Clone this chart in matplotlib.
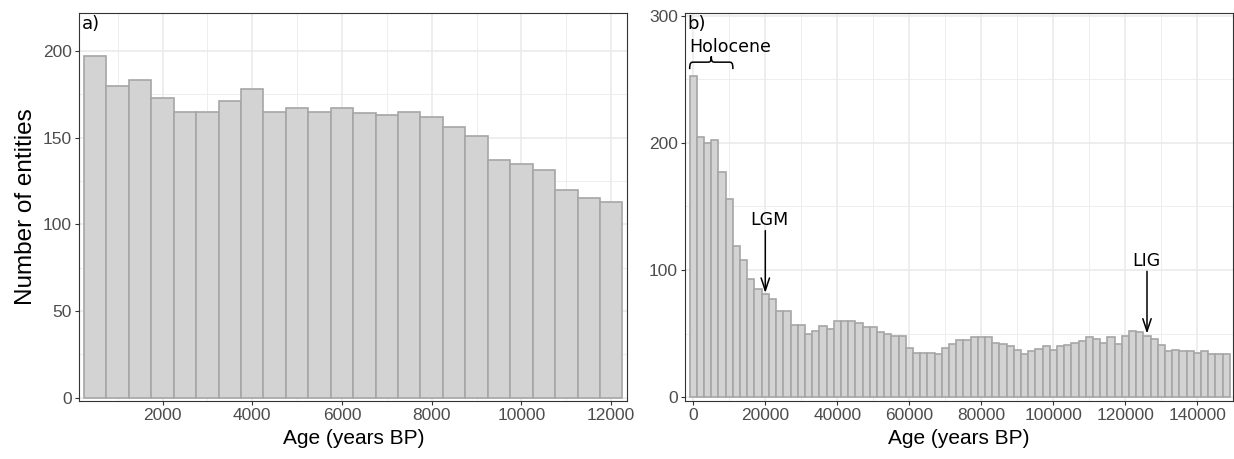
import numpy as np
import matplotlib
matplotlib.use("Agg")
import matplotlib.pyplot as plt
from matplotlib.path import Path
from matplotlib.patches import PathPatch
from matplotlib.ticker import MultipleLocator

# ---------------- data ----------------
# panel a: Holocene, 500-year bins (centres)
a_bin_width = 500
a_first_centre = 500
a_counts = [197, 180, 183, 173, 165, 165, 171, 178, 165, 167, 165, 167,
            164, 163, 165, 162, 156, 151, 137, 135, 131, 120, 115, 113]

# panel b: last 150 ka, 2000-year bins (centres)
b_bin_width = 2000
b_first_centre = 0
b_counts = [253, 205, 200, 202, 177, 156, 119, 108, 93, 85,
            81, 77, 68, 68, 57, 57, 50, 52, 56, 54,
            60, 60, 60, 58, 55, 55, 51, 50, 48, 48,
            39, 35, 35, 35, 34, 39, 42, 45, 45, 47,
            47, 47, 43, 42, 40, 37, 34, 36, 38, 40,
            37, 40, 41, 43, 44, 47, 46, 43, 47, 42,
            48, 52, 51, 48, 46, 41, 36, 37, 36, 36,
            35, 36, 34, 34, 34]

a_xticks = [2000, 4000, 6000, 8000, 10000, 12000]
a_yticks = [0, 50, 100, 150, 200]
b_xticks = [0, 20000, 40000, 60000, 80000, 100000, 120000, 140000]
b_yticks = [0, 100, 200, 300]

x_title = "Age (years BP)"
y_title = "Number of entities"
panel_labels = ["a)", "b)"]
# name: (arrow x, arrow tip y, label x, label y)
events = {"LGM": (20000, 82, 21000, 139), "LIG": (126000, 50, 125800, 107)}
holocene_label = "Holocene"
holocene_span = (-1000, 11000)

# ---------------- style ----------------
FILL = "#D3D3D3"
EDGE = "#A6A6A6"
GRID = "#EBEBEB"
BORDER = "#333333"
TICKLAB = "#4D4D4D"
SANS = ["Liberation Sans", "DejaVu Sans"]
ANNO = ["DejaVu Sans"]

W, H = 1234, 459
fig = plt.figure(figsize=(W / 100, H / 100), dpi=100)

def px_axes(l, r, t, b):
    return fig.add_axes([l / W, 1 - b / H, (r - l) / W, (b - t) / H])

axa = px_axes(79.3, 627.3, 12.7, 401)
axb = px_axes(685, 1232.7, 12.7, 401)

def style(ax, xticks, yticks, xminor, yminor):
    ax.set_facecolor("white")
    ax.set_axisbelow(True)
    ax.set_xticks(xticks)
    ax.set_yticks(yticks)
    ax.xaxis.set_minor_locator(MultipleLocator(xminor))
    ax.yaxis.set_minor_locator(MultipleLocator(yminor))
    ax.grid(which="major", color=GRID, linewidth=1.2)
    ax.grid(which="minor", color=GRID, linewidth=0.6)
    ax.tick_params(which="minor", length=0)
    ax.tick_params(which="major", length=3.2, width=0.8, color=BORDER,
                   labelcolor=TICKLAB, labelsize=12.5, pad=2)
    for lab in ax.get_xticklabels() + ax.get_yticklabels():
        lab.set_family(SANS)
    for s in ax.spines.values():
        s.set_color(BORDER)
        s.set_linewidth(0.8)
    ax.set_xlabel(x_title, fontsize=15, family=SANS, labelpad=4)

# panel a
a_centres = a_first_centre + a_bin_width * np.arange(len(a_counts))
axa.bar(a_centres, a_counts, width=a_bin_width, color=FILL, edgecolor=EDGE,
        linewidth=1.2, zorder=2)
axa.set_xlim(145, 12360)
axa.set_ylim(-2, 222)
style(axa, a_xticks, a_yticks, 1000, 25)
axa.set_ylabel(y_title, fontsize=17.5, family=SANS, labelpad=4)
axa.text(0.004, 0.995, panel_labels[0], transform=axa.transAxes, ha="left",
         va="top", fontsize=13, family=ANNO)

# panel b
b_centres = b_first_centre + b_bin_width * np.arange(len(b_counts))
axb.bar(b_centres, b_counts, width=b_bin_width, color=FILL, edgecolor=EDGE,
        linewidth=1.2, zorder=2)
axb.set_xlim(-2300, 149800)
axb.set_ylim(-3, 302.4)
style(axb, b_xticks, b_yticks, 10000, 50)
axb.text(0.004, 0.995, panel_labels[1], transform=axb.transAxes, ha="left",
         va="top", fontsize=13, family=ANNO)

for name, (x, ytip, xl, yl) in events.items():
    axb.annotate("", xy=(x, ytip), xytext=(x, yl - 8),
                 arrowprops=dict(arrowstyle="->,head_length=0.9,head_width=0.3",
                                 color="black", lw=1.1, shrinkA=0, shrinkB=0),
                 zorder=5)
    axb.text(xl, yl, name, ha="center", va="center", fontsize=12.5,
             family=ANNO, zorder=5)

# Holocene brace
x0, x1 = holocene_span
xm = (x0 + x1) / 2
ylow, ymid, yhigh = 258.0, 263.5, 268.0
q = (x1 - x0) * 0.1
verts = [(x0, ylow), (x0, ymid), (x0 + q * 0.3, ymid), (x0 + q, ymid),
         (xm - q, ymid), (xm - q * 0.3, ymid), (xm, ymid), (xm, yhigh),
         (xm, ymid), (xm + q * 0.3, ymid), (xm + q, ymid),
         (x1 - q, ymid), (x1 - q * 0.3, ymid), (x1, ymid), (x1, ylow)]
codes = [Path.MOVETO, Path.CURVE4, Path.CURVE4, Path.CURVE4,
         Path.LINETO, Path.CURVE4, Path.CURVE4, Path.CURVE4,
         Path.CURVE4, Path.CURVE4, Path.CURVE4,
         Path.LINETO, Path.CURVE4, Path.CURVE4, Path.CURVE4]
axb.add_patch(PathPatch(Path(verts, codes), facecolor="none", edgecolor="black",
                        linewidth=1.1, zorder=5))
axb.text(10200, 275.5, holocene_label, ha="center", va="center", fontsize=12.5,
         family=ANNO, zorder=5)

fig.savefig("out.png", dpi=100, facecolor="white")
